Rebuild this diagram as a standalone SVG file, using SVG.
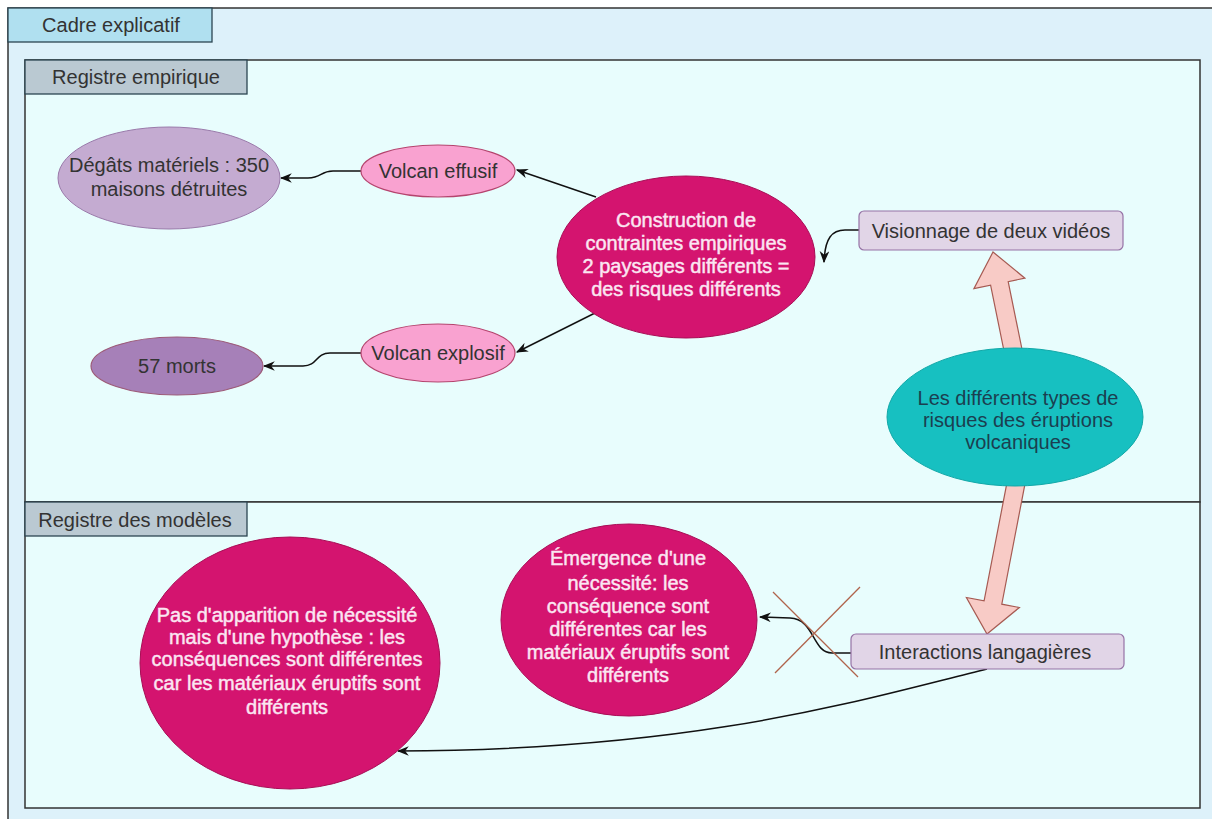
<svg xmlns="http://www.w3.org/2000/svg" width="1212" height="819" viewBox="0 0 1212 819">
<defs>
<style>
text{font-family:"Liberation Sans",Arial,sans-serif;font-size:20px;text-anchor:middle}
.dark{fill:#333333}
.lt{fill:#fbe6f2;stroke:#fbe6f2;stroke-width:0.45}
.tl{fill:#1b3f50}
.tab{stroke:#2b4552;stroke-width:1.3}
.panel{fill:#e8fdfd;stroke:#333333;stroke-width:1.5}
.conn{fill:none;stroke:#111111;stroke-width:1.5}
.big{fill:#f8cbc6;stroke:#a65a52;stroke-width:1.2}
.mag{fill:#d4146f;stroke:#a80d55;stroke-width:1}
.pink{fill:#f9a2d0;stroke:#b5446e;stroke-width:1.2}
.box{fill:#e1d5e7;stroke:#9673a6;stroke-width:1.2}
.x{stroke:#b0644c;stroke-width:1.3;fill:none}
</style>
<marker id="ah" viewBox="0 0 10 8" refX="9" refY="4" markerWidth="12" markerHeight="10" markerUnits="userSpaceOnUse" orient="auto">
<path d="M0,0 L10,4 L0,8 L3,4 Z" fill="#111111"/>
</marker>
</defs>

<g id="frame">
<rect x="8" y="8" width="1210" height="820" fill="#ddf1fa" stroke="#333333" stroke-width="1.5"/>
<rect x="8" y="8" width="204" height="34" fill="#b0e0f0" class="tab"/>
<text x="111" y="32" class="dark">Cadre explicatif</text>
</g>

<g id="registre-empirique">
<rect x="25" y="60" width="1175" height="442" class="panel"/>
<rect x="25" y="60" width="222" height="34" fill="#bac9d2" class="tab"/>
<text x="136" y="84" class="dark">Registre empirique</text>
</g>

<g id="registre-modeles">
<rect x="25" y="502" width="1175" height="306" class="panel"/>
<rect x="25" y="502" width="222" height="34" fill="#bac9d2" class="tab"/>
<text x="135" y="527" class="dark">Registre des modèles</text>
</g>

<g id="connectors">
<path class="conn" d="M596,197 L517,170" marker-end="url(#ah)"/>
<path class="conn" d="M595,313 L517,352" marker-end="url(#ah)"/>
<path class="conn" d="M361,171 L333,171 C320,171 322,178 308,178 L281,178" marker-end="url(#ah)"/>
<path class="conn" d="M361,353 L330,353 C315,353 318,366 303,366 L264,366" marker-end="url(#ah)"/>
<path class="conn" d="M859,230 L845,230 C832,230 825,238 824,262" marker-end="url(#ah)"/>
<path class="conn" d="M851,653 L832,653 C812,653 815,619 790,618 L760,617" marker-end="url(#ah)"/>
<path class="conn" d="M987,669 C860,700 700,750 398,751" marker-end="url(#ah)"/>
<line class="x" x1="773" y1="592" x2="858" y2="677"/>
<line class="x" x1="860" y1="587" x2="775" y2="673"/>
<polygon class="big" points="993,252 1024.9,278.2 1008.2,281.6 1022.8,353.2 1005.2,356.8 990.6,285.2 973.9,288.6"/>
<polygon class="big" points="987,634 1019.4,607.5 1001.8,604.2 1025.8,479.7 1008.2,476.3 984.1,600.8 966.4,597.5"/>
</g>

<g id="degats">
<ellipse cx="169" cy="178" rx="111" ry="51" fill="#c4abd1" stroke="#9a7aaa" stroke-width="1"/>
<text x="169" y="172" class="dark">Dégâts matériels : 350</text>
<text x="169" y="196" class="dark">maisons détruites</text>
</g>

<g id="morts">
<ellipse cx="177" cy="366" rx="86" ry="29" fill="#a680b8" stroke="#9c5a78" stroke-width="1.2"/>
<text x="177" y="373" class="dark">57 morts</text>
</g>

<g id="effusif">
<ellipse cx="438" cy="171" rx="77" ry="26" class="pink"/>
<text x="438" y="178" class="dark">Volcan effusif</text>
</g>

<g id="explosif">
<ellipse cx="438" cy="353" rx="77" ry="29" class="pink"/>
<text x="438" y="360" class="dark">Volcan explosif</text>
</g>

<g id="construction">
<ellipse cx="686" cy="257" rx="129" ry="81" class="mag"/>
<text x="686" y="227" class="lt">Construction de</text>
<text x="686" y="250" class="lt">contraintes empiriques</text>
<text x="686" y="273" class="lt">2 paysages différents =</text>
<text x="686" y="296" class="lt">des risques différents</text>
</g>

<g id="visionnage">
<rect x="859" y="211" width="264" height="39" rx="5" class="box"/>
<text x="991" y="238" class="dark">Visionnage de deux vidéos</text>
</g>

<g id="types">
<ellipse cx="1015" cy="417" rx="128" ry="69" fill="#17c0c1" stroke="#12a8a8" stroke-width="1"/>
<text x="1018" y="405" class="tl">Les différents types de</text>
<text x="1018" y="427" class="tl">risques des éruptions</text>
<text x="1018" y="449" class="tl">volcaniques</text>
</g>

<g id="interactions">
<rect x="851" y="634" width="273" height="35" rx="5" class="box"/>
<text x="985" y="659" class="dark">Interactions langagières</text>
</g>

<g id="emergence">
<ellipse cx="629" cy="620" rx="128" ry="96" class="mag"/>
<text x="628" y="565" class="lt">Émergence d'une</text>
<text x="628" y="590" class="lt">nécessité: les</text>
<text x="628" y="613" class="lt">conséquence sont</text>
<text x="628" y="636" class="lt">différentes car les</text>
<text x="628" y="659" class="lt">matériaux éruptifs sont</text>
<text x="628" y="682" class="lt">différents</text>
</g>

<g id="hypothese">
<ellipse cx="290" cy="663" rx="150" ry="126" class="mag"/>
<text x="287" y="622" class="lt">Pas d'apparition de nécessité</text>
<text x="287" y="644" class="lt">mais d'une hypothèse : les</text>
<text x="287" y="666" class="lt">conséquences sont différentes</text>
<text x="287" y="690" class="lt">car les matériaux éruptifs sont</text>
<text x="287" y="714" class="lt">différents</text>
</g>
</svg>
